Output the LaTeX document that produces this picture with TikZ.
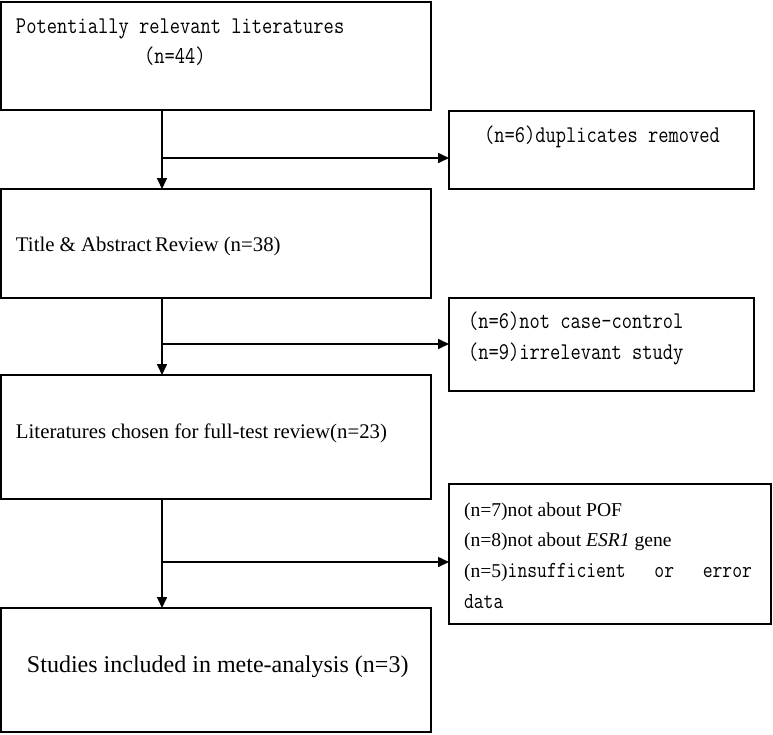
\documentclass[tikz,border=0pt]{standalone}
\usepackage{fontspec}
\setmainfont{Liberation Serif}
\newfontfamily\sunfont[FakeStretch=0.83]{Latin Modern Mono}
\usetikzlibrary{arrows.meta,calc}
\begin{document}
\begin{tikzpicture}[x=1pt,y=-1pt,
  box/.style={draw,line width=1.6pt,anchor=north west,inner sep=0pt,outer sep=0pt},
  arr/.style={line width=1.6pt,-{Triangle[length=11pt,width=10pt]}},
  txt/.style={anchor=base west,inner sep=0pt,outer sep=0pt},
  mono/.style={txt,font=\sunfont\fontsize{24}{28}\selectfont},
  tms/.style={txt,font=\fontsize{20.8}{24}\selectfont}]
\useasboundingbox (0,0) rectangle (773,734);
% main boxes
\node[box,minimum width=430pt,minimum height=108pt] (b1) at (1,2) {};
\node[box,minimum width=430pt,minimum height=109pt] (b2) at (1,189) {};
\node[box,minimum width=430pt,minimum height=124pt] (b3) at (1,375) {};
\node[box,minimum width=430pt,minimum height=124pt] (b4) at (1,608) {};
% side boxes
\node[box,minimum width=305pt,minimum height=78pt] (s1) at (449,111) {};
\node[box,minimum width=305pt,minimum height=93pt] (s2) at (449,298) {};
\node[box,minimum width=322pt,minimum height=140pt] (s3) at (449,484) {};
% texts
\node[mono] (t1a) at (16,33) {Potentially relevant literatures};
\node[mono] (t1b) at (144,63) {(n=44)};
\node[tms] (t2) at (16,251) {Title \& Abstract\,Review (n=38)};
\node[tms] (t3) at (16,438) {Literatures chosen for full-test review(n=23)};
\node[txt,font=\fontsize{24}{28}\selectfont] (t4) at (27,672) {Studies included in mete-analysis (n=3)};
\node[mono] (u1) at (484,142) {(n=6)duplicates removed};
\node[mono] (u2a) at (468,328) {(n=6)not case-control};
\node[mono] (u2b) at (468,359) {(n=9)irrelevant study};
\node[txt,font=\fontsize{19.6}{22}\selectfont] (u3a) at (464,516) {(n=7)not about POF};
\node[txt,font=\fontsize{19.6}{22}\selectfont] (u3b) at (464,546) {(n=8)not about \textit{ESR1} gene};
\node[txt,font=\fontsize{19.6}{22}\selectfont] (u3c) at (464,577) {\hbox to 288pt{(n=5){\sunfont\fontsize{23}{26}\selectfont insufficient\hfill or\hfill error}}};
\node[mono,font=\sunfont\fontsize{23}{26}\selectfont] (u3d) at (464,608) {data};
% junctions
\coordinate (j1) at (162,158);
\coordinate (j2) at (162,344);
\coordinate (j3) at (162,562);
% connectors
\draw[arr] (b1.south west -| j1) -- (b2.north west -| j1);
\draw[arr] (j1) -- (s1.west |- j1);
\draw[arr] (b2.south west -| j2) -- (b3.north west -| j2);
\draw[arr] (j2) -- (s2.west |- j2);
\draw[arr] (b3.south west -| j3) -- (b4.north west -| j3);
\draw[arr] (j3) -- (s3.west |- j3);
\end{tikzpicture}
\end{document}
